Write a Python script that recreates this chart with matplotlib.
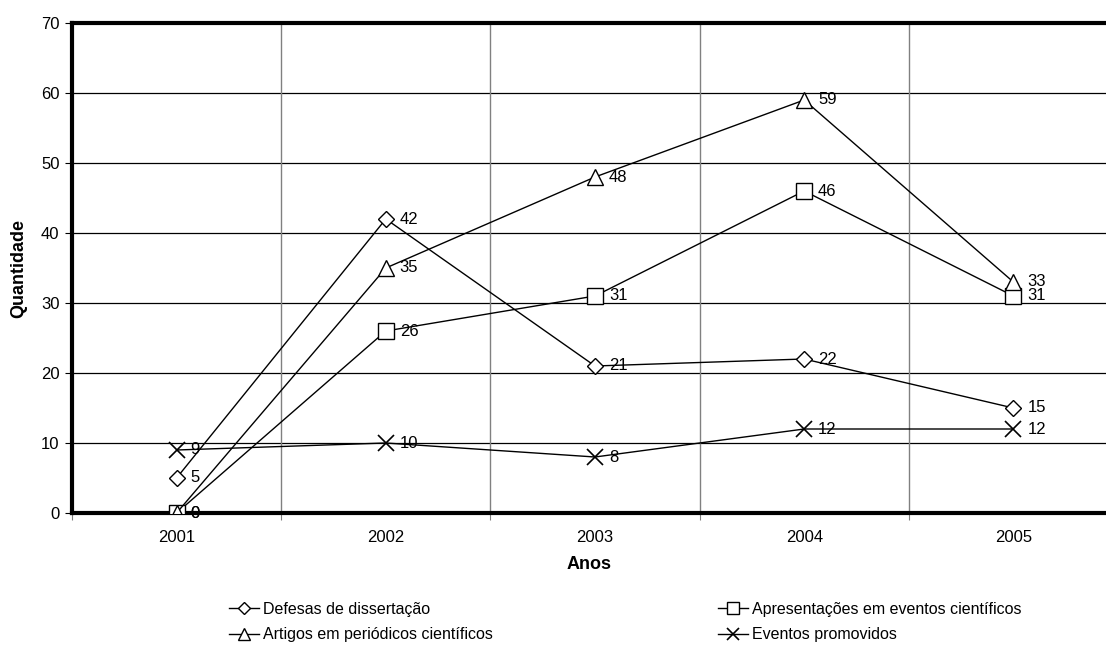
import matplotlib
matplotlib.use("Agg")
import matplotlib.pyplot as plt
from matplotlib.ticker import FixedLocator, NullFormatter

years = ["2001", "2002", "2003", "2004", "2005"]
defesas = [5, 42, 21, 22, 15]
apresentacoes = [0, 26, 31, 46, 31]
artigos = [0, 35, 48, 59, 33]
eventos = [9, 10, 8, 12, 12]

series = [
    ("Defesas de dissertação", defesas, "D", 8.5),
    ("Apresentações em eventos científicos", apresentacoes, "s", 12),
    ("Artigos em periódicos científicos", artigos, "^", 12),
    ("Eventos promovidos", eventos, "x", 12),
]

plt.rcParams['font.family'] = ['Liberation Sans', 'DejaVu Sans']

fig = plt.figure(figsize=(11.06, 6.5), dpi=100)
ax = fig.add_axes([72 / 1106, 1 - 513 / 650, 1 - 72 / 1106, (513 - 23) / 650])

x = list(range(len(years)))
handles = []
for name, vals, mk, ms in series:
    h, = ax.plot(x, vals, color="black", lw=1, marker=mk, markersize=ms,
                 markerfacecolor="white", markeredgecolor="black",
                 markeredgewidth=1.2 if mk == "x" else 1, label=name, zorder=3)
    handles.append(h)
    for xi, v in zip(x, vals):
        ax.annotate(str(v), (xi, v), xytext=(10, 0), textcoords="offset points",
                    ha="left", va="center", fontsize=12, zorder=4)

ax.set_xlim(-0.5, (1106 - 72) / 209.2 - 0.5)
ax.set_ylim(0, 70)
ax.set_yticks(range(0, 71, 10))
ax.yaxis.grid(True, color="black", lw=0.9)
ax.xaxis.set_major_locator(FixedLocator([-0.5, 0.5, 1.5, 2.5, 3.5]))
ax.xaxis.set_major_formatter(NullFormatter())
ax.xaxis.set_minor_locator(FixedLocator(x))
ax.set_xticklabels(years, minor=True)
ax.tick_params(axis="x", which="minor", length=0, pad=12, labelsize=12)
ax.tick_params(axis="x", which="major", length=5, width=0.8, color="#808080")
ax.tick_params(axis="y", length=5, width=0.8, labelsize=12, pad=4)
for xb in [0.5, 1.5, 2.5, 3.5]:
    ax.axvline(xb, color="#808080", lw=1, zorder=1)
ax.set_axisbelow(True)

for s in ["left", "bottom", "top"]:
    ax.spines[s].set_linewidth(3)
    ax.spines[s].set_color("black")
ax.spines["right"].set_visible(False)

ax.set_ylabel("Quantidade", fontsize=13, fontweight="bold", labelpad=10)
ax.set_xlabel("Anos", fontsize=13, fontweight="bold", labelpad=8)

leg_kw = dict(loc="upper left", frameon=False, fontsize=11.5, handlelength=1.9,
              handletextpad=0.2, labelspacing=0.65, markerscale=0.7,
              borderpad=0, borderaxespad=0)
fig.legend(handles=[handles[0], handles[2]],
           bbox_to_anchor=(229 / 1106, 1 - 602 / 650), **leg_kw)
fig.legend(handles=[handles[1], handles[3]],
           bbox_to_anchor=(718 / 1106, 1 - 602 / 650), **leg_kw)

fig.savefig("out.png", dpi=100)
